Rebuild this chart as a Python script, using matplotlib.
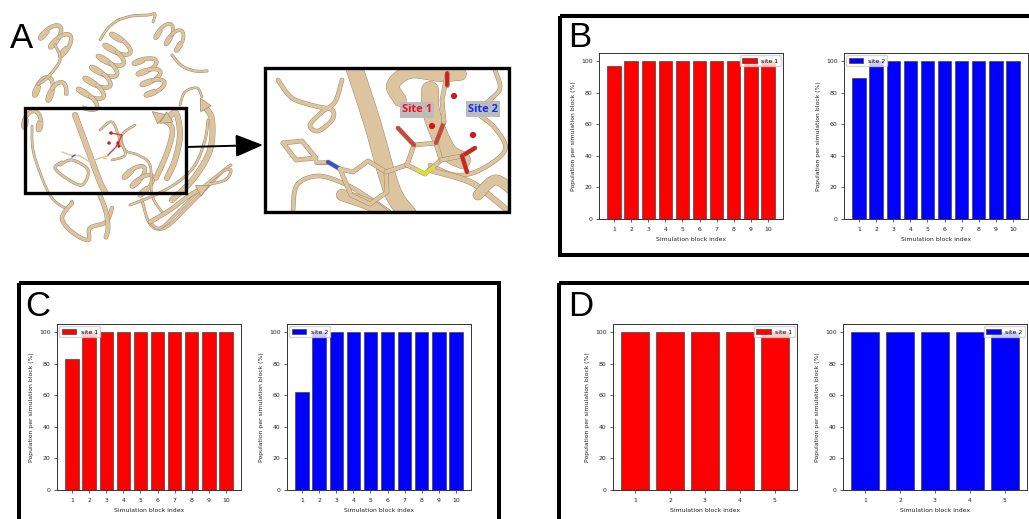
import numpy as np
import matplotlib
matplotlib.use("Agg")
import matplotlib.pyplot as plt
from matplotlib.patches import Rectangle, Circle, Polygon

W, H = 1029, 519
TAN = "#dcc49f"
TAN_DARK = "#a08a68"

block_10 = [1, 2, 3, 4, 5, 6, 7, 8, 9, 10]
block_5 = [1, 2, 3, 4, 5]
b_site1 = [97, 100, 100, 100, 100, 100, 100, 100, 100, 100]
b_site2 = [89, 100, 100, 100, 100, 100, 100, 100, 100, 100]
c_site1 = [83, 100, 100, 100, 100, 100, 100, 100, 100, 100]
c_site2 = [62, 100, 100, 100, 100, 100, 100, 100, 100, 100]
d_site1 = [100, 100, 100, 100, 100]
d_site2 = [100, 100, 100, 100, 100]


def smooth(points, n=14):
    # catmull-rom through the sketch points
    p = np.array(points, dtype=float)
    p = np.vstack([p[0], p, p[-1]])
    out = []
    for i in range(1, len(p) - 2):
        for t in np.linspace(0, 1, n, endpoint=False):
            out.append(0.5 * (2 * p[i] + (p[i + 1] - p[i - 1]) * t
                              + (2 * p[i - 1] - 5 * p[i] + 4 * p[i + 1] - p[i + 2]) * t ** 2
                              + (3 * p[i] - p[i - 1] - 3 * p[i + 1] + p[i + 2]) * t ** 3))
    out.append(p[-2])
    return np.array(out)


def ribbon(ax, points, lw=2.0, clip=None):
    xy = smooth(points)
    for width, col in [(lw + 0.7, TAN_DARK), (lw, TAN)]:
        line, = ax.plot(xy[:, 0], xy[:, 1], color=col, lw=width, solid_capstyle="round")
        if clip is not None:
            line.set_clip_path(clip)


def helix(ax, start, end, radius, turns, lw=2.4):
    start = np.array(start, dtype=float)
    end = np.array(end, dtype=float)
    along = end - start
    normal = np.array([-along[1], along[0]]) / np.hypot(*along)
    count = int(turns * 2)
    per_half = 20
    t = np.linspace(0, 1, count * per_half + 1)
    phase = 2 * np.pi * turns * t
    step = along / turns * 0.3
    xy = start + np.outer(t, along) + np.outer(np.sin(phase), normal * radius) + np.outer(np.cos(phase), step)
    # back half turns first, so the front ones lie over them
    for offset in (0, 1):
        for k in range(offset, count, 2):
            seg = xy[k * per_half:(k + 1) * per_half + 1]
            ax.plot(seg[:, 0], seg[:, 1], color=TAN_DARK, lw=lw + 0.7, solid_capstyle="butt")
            ax.plot(seg[:, 0], seg[:, 1], color=TAN, lw=lw, solid_capstyle="butt")


def strand(ax, points, lw=4.5):
    ribbon(ax, points, lw=lw)
    a, b = np.array(points[-2], float), np.array(points[-1], float)
    d = (b - a) / np.hypot(*(b - a))
    n = np.array([-d[1], d[0]])
    ax.add_patch(Polygon([b - 2 * d + n * 6, b + d * 10, b - 2 * d - n * 6],
                         facecolor=TAN, edgecolor=TAN_DARK, lw=0.5, zorder=3))


def draw_protein(ax):
    helix(ax, (45, 28), (70, 50), 11, 2.5)
    helix(ax, (124, 38), (84, 104), 13, 6)
    helix(ax, (143, 57), (157, 94), 11, 3.5)
    helix(ax, (158, 28), (184, 44), 10, 2.5, lw=1.9)
    helix(ax, (35, 84), (62, 94), 11, 2)
    helix(ax, (22, 118), (44, 122), 9, 1.5)
    helix(ax, (130, 168), (150, 190), 11, 2.5)
    ribbon(ax, [(118, 20), (132, 16), (148, 15), (155, 14), (153, 22)], lw=1.3)
    ribbon(ax, [(118, 20), (108, 28), (100, 40)], lw=1.3)
    ribbon(ax, [(172, 55), (182, 66), (195, 71), (207, 71)], lw=1.5)
    ribbon(ax, [(55, 45), (60, 60), (47, 78), (38, 84)], lw=1.5)
    ribbon(ax, [(32, 126), (33, 150), (42, 178), (52, 198), (66, 208), (72, 201)], lw=1.2)
    ribbon(ax, [(72, 203), (62, 218), (72, 232), (88, 240), (90, 228), (106, 222), (112, 208)], lw=2.4)
    ribbon(ax, [(100, 195), (106, 212), (108, 228), (106, 237)], lw=2.8)
    ribbon(ax, [(75, 115), (88, 150), (100, 182), (105, 192)], lw=3.6)
    ribbon(ax, [(60, 165), (72, 160), (88, 170), (82, 185), (66, 178), (55, 168), (62, 162)], lw=1.5)
    ribbon(ax, [(135, 125), (122, 135), (125, 150), (138, 155), (150, 165), (152, 195), (162, 212)], lw=1.2)
    ribbon(ax, [(142, 200), (150, 224), (165, 228), (190, 205), (222, 172), (231, 165)], lw=1.4)
    ribbon(ax, [(100, 130), (112, 122), (120, 140), (125, 155), (112, 160)], lw=1.2)
    ribbon(ax, [(130, 205), (155, 195), (178, 182), (195, 165), (205, 140), (208, 120)], lw=1.4)
    ribbon(ax, [(150, 222), (160, 228), (178, 212), (200, 190), (222, 172), (231, 170), (225, 180), (205, 185)], lw=1.4)
    strand(ax, [(172, 200), (194, 178), (210, 150), (212, 120), (205, 107)], lw=3.6)
    strand(ax, [(167, 178), (175, 160), (180, 135), (176, 113), (168, 118)], lw=3.6)
    strand(ax, [(156, 178), (168, 150), (172, 128), (160, 118)], lw=3.2)
    ribbon(ax, [(180, 105), (185, 92), (197, 88), (202, 97)], lw=1.2)
    strand(ax, [(150, 222), (170, 210), (190, 195), (200, 190)], lw=2.6)
    # ligand sticks
    for pts, col in [([(62, 152), (70, 155), (80, 156), (90, 162)], TAN),
                     ([(90, 162), (100, 158), (108, 156)], TAN),
                     ([(108, 155), (116, 147), (122, 135), (110, 133)], "#c9463c"),
                     ([(75, 155), (72, 157)], "#3355cc"),
                     ([(103, 158), (106, 158)], "#dfdf30")]:
        ax.plot(*zip(*pts), color=col, lw=1.0, solid_capstyle="round")
    for x, y in [(109, 143), (118, 143), (119, 146), (111, 133)]:
        ax.add_patch(Circle((x, y), 1.0, color="#d01818", zorder=4))


def draw_inset(ax):
    clip = Rectangle((265, 68), 244, 144, transform=ax.transData)
    ribbon(ax, [(278, 80), (292, 98), (315, 106), (332, 110), (332, 120), (318, 131), (310, 125), (322, 112), (335, 102), (342, 80)], lw=2.6, clip=clip)
    ribbon(ax, [(355, 70), (372, 122), (392, 190), (408, 214)], lw=12, clip=clip)
    ribbon(ax, [(400, 100), (393, 85), (410, 72), (440, 75), (460, 74)], lw=9, clip=clip)
    ribbon(ax, [(430, 90), (432, 115), (447, 150), (462, 160)], lw=12, clip=clip)
    ribbon(ax, [(495, 70), (500, 88), (490, 100), (478, 112), (495, 128), (505, 150), (480, 170), (455, 175), (430, 165)], lw=2.6, clip=clip)
    ribbon(ax, [(293, 210), (297, 185), (318, 176), (345, 184), (372, 200), (392, 214)], lw=2.6, clip=clip)
    ribbon(ax, [(430, 170), (470, 182), (495, 200), (509, 212)], lw=3.6, clip=clip)
    ribbon(ax, [(478, 195), (495, 180), (512, 190)], lw=7, clip=clip)
    ribbon(ax, [(342, 195), (370, 205), (385, 216)], lw=8, clip=clip)

    sticks = [([(283, 143), (302, 141), (316, 158), (296, 160), (283, 143)], TAN),
              ([(316, 162), (328, 162)], TAN),
              ([(328, 162), (340, 169)], "#3355cc"),
              ([(340, 169), (353, 172), (368, 161), (386, 172), (387, 192), (370, 204), (351, 195), (340, 169)], TAN),
              ([(386, 172), (407, 165)], TAN),
              ([(407, 165), (414, 145), (436, 143), (441, 160), (425, 174), (407, 165)], TAN),
              ([(414, 145), (398, 128)], "#c9463c"),
              ([(436, 143), (444, 122)], "#c9463c"),
              ([(444, 122), (442, 100), (447, 75)], TAN),
              ([(447, 85), (447, 73)], "#d02020"),
              ([(441, 160), (462, 156)], TAN),
              ([(462, 156), (475, 148)], "#d02020"),
              ([(462, 156), (467, 172)], "#d02020")]
    for pts, col in sticks:
        xs, ys = zip(*pts)
        ax.plot(xs, ys, color=TAN_DARK, lw=3.4, solid_capstyle="round", zorder=4)
        ax.plot(xs, ys, color=col, lw=2.7, solid_capstyle="round", zorder=4)
    ax.plot([418, 425, 433], [170, 174, 168], color="#dddd33", lw=2.7, zorder=4)
    for x, y in [(432, 126), (473, 135), (454, 96)]:
        ax.add_patch(Circle((x, y), 2.4, color="#d01818", zorder=5))

    ax.text(417, 110, "Site 1", color="#f01020", fontsize=8, fontweight="bold", family="Open Sans",
            ha="center", va="center", zorder=6, bbox=dict(facecolor="#bcbcbc", edgecolor="none", pad=1.6))
    ax.text(483, 109, "Site 2", color="#1030f0", fontsize=8, fontweight="bold", family="Open Sans",
            ha="center", va="center", zorder=6, bbox=dict(facecolor="#bcbcbc", edgecolor="none", pad=1.6))
    ax.add_patch(Rectangle((265, 68), 244, 144, fill=False, edgecolor="black", lw=2.4, zorder=7))


def draw_bars(fig, left, top, blocks, values, color, label, legend_loc):
    # axes box is given in picture pixels
    ax = fig.add_axes([left / W, 1 - (top + 166) / H, 184 / W, 166 / H])
    ax.bar(blocks, values, width=0.8, color=color, edgecolor="#444444", linewidth=0.5, label=label)
    ax.set_xticks(blocks)
    ax.set_yticks([0, 20, 40, 60, 80, 100])
    ax.set_ylim(0, 105)
    ax.tick_params(labelsize=4.4, length=2.5, width=0.5, colors="#222222")
    ax.tick_params(axis="x", pad=3.5)
    ax.tick_params(axis="y", pad=2)
    ax.set_xlabel("Simulation block index", fontsize=4.4, labelpad=3.5, color="#222222")
    ax.set_ylabel("Population per simulation block (%)", fontsize=4.4, labelpad=4, color="#222222")
    for spine in ax.spines.values():
        spine.set_linewidth(0.7)
        spine.set_color("#333333")
    ax.legend(loc=legend_loc, fontsize=4.4, handlelength=2.4, handleheight=1.1,
              handletextpad=0.7, borderpad=0.35, borderaxespad=0.4)
    return ax


fig = plt.figure(figsize=(W / 100, H / 100), dpi=100)
bg = fig.add_axes([0, 0, 1, 1])
bg.set_xlim(0, W)
bg.set_ylim(H, 0)
bg.axis("off")

draw_protein(bg)
bg.add_patch(Rectangle((25, 108), 161, 85, fill=False, edgecolor="black", lw=2.4, zorder=7))
bg.annotate("", xy=(263, 145), xytext=(186, 147), zorder=7,
            arrowprops=dict(arrowstyle="-|>,head_length=1.7,head_width=0.7", color="black", lw=1.4, shrinkA=0, shrinkB=0))
draw_inset(bg)

# panel frames run off the picture on some sides
bg.add_patch(Rectangle((560, 16), 520, 239, fill=False, edgecolor="black", lw=2.9))
bg.add_patch(Rectangle((19, 283), 480, 280, fill=False, edgecolor="black", lw=2.9))
bg.add_patch(Rectangle((559, 283), 520, 280, fill=False, edgecolor="black", lw=2.9))

for letter, x, y in [("A", 10, 48), ("B", 568, 47), ("C", 25, 316), ("D", 568, 316)]:
    bg.text(x, y, letter, fontsize=25, family="Liberation Sans", color="black", ha="left", va="baseline")

draw_bars(fig, 599, 53, block_10, b_site1, "red", "site 1", "upper right")
draw_bars(fig, 844, 53, block_10, b_site2, "blue", "site 2", "upper left")
draw_bars(fig, 57, 324, block_10, c_site1, "red", "site 1", "upper left")
draw_bars(fig, 287, 324, block_10, c_site2, "blue", "site 2", "upper left")
draw_bars(fig, 613, 324, block_5, d_site1, "red", "site 1", "upper right")
draw_bars(fig, 843, 324, block_5, d_site2, "blue", "site 2", "upper right")

fig.savefig("out.png", dpi=100)
